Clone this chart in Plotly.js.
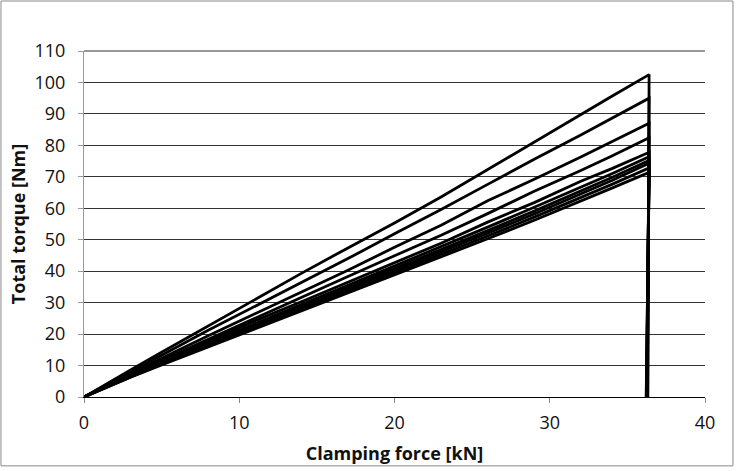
<!DOCTYPE html>
<html>
<head>
<meta charset="utf-8">
<script src="https://cdn.plot.ly/plotly-3.0.1.min.js"></script>
<style>
  html, body { margin: 0; padding: 0; background: #fff; }
  #chart { width: 736px; height: 471px; }
</style>
</head>
<body>
<div id="chart"></div>
<script>
// Clamping force sample points [kN] shared by every tightening run
const force = [0, 1, 3, 5, 8, 11, 14, 17, 20, 23, 26, 29, 32, 34, 36.4];

// Total torque [Nm] for each run, loading branch up to the peak
const run1  = [0, 2.9, 8.6, 14.2, 22.6, 30.9, 39.3, 47.4, 55.3, 63.6, 72.4, 81.0, 89.8, 95.6, 102.5];
const run2  = [0, 2.7, 8.1, 13.3, 21.2, 28.8, 36.4, 44.0, 51.9, 59.6, 67.6, 75.6, 83.3, 88.6, 95.0];
const run3  = [0, 2.5, 7.5, 12.3, 19.5, 26.5, 33.4, 40.3, 47.6, 54.6, 62.4, 69.2, 76.3, 81.2, 87.0];
const run4  = [0, 2.4, 7.2, 11.7, 18.4, 25.1, 31.7, 38.3, 44.9, 51.4, 58.3, 65.4, 72.0, 76.6, 82.4];
const run5  = [0, 2.4, 7.0, 11.4, 17.8, 24.2, 30.3, 36.5, 42.6, 48.9, 55.6, 61.8, 68.6, 72.6, 77.8];
const run6  = [0, 2.3, 6.8, 11.0, 17.2, 23.4, 29.4, 35.5, 41.6, 47.7, 54.0, 60.3, 66.7, 71.0, 76.4];
const run7  = [0, 2.3, 6.7, 10.8, 16.8, 22.8, 28.8, 34.7, 40.7, 46.8, 52.9, 59.1, 65.4, 69.8, 75.2];
const run8  = [0, 2.2, 6.5, 10.6, 16.5, 22.4, 28.3, 34.2, 40.1, 46.0, 52.1, 58.2, 64.5, 68.8, 74.3];
const run9  = [0, 2.2, 6.4, 10.4, 16.2, 22.0, 27.8, 33.6, 39.4, 45.2, 51.2, 57.2, 63.3, 67.6, 72.8];
const run10 = [0, 2.1, 6.3, 10.2, 15.9, 21.6, 27.3, 33.0, 38.7, 44.4, 50.3, 56.2, 62.2, 66.4, 71.4];

// Force at which each run's torque falls back to zero (release)
const releaseForce = [36.32, 36.28, 36.30, 36.26, 36.24, 36.27, 36.22, 36.25, 36.21, 36.23];

const runs = [run1, run2, run3, run4, run5, run6, run7, run8, run9, run10];

const xTicks = [0, 10, 20, 30, 40];
const yTicks = [0, 10, 20, 30, 40, 50, 60, 70, 80, 90, 100, 110];

const traces = runs.map((torque, i) => ({
  type: 'scatter',
  mode: 'lines',
  x: force.concat([releaseForce[i]]),
  y: torque.concat([0]),
  line: { color: '#000000', width: 2.8 },
  hoverinfo: 'skip',
  showlegend: false
}));

const fontFamily = '"Open Sans", Lato, "Liberation Sans", sans-serif';
const textColor = '#111111';

const layout = {
  width: 736,
  height: 471,
  margin: { l: 84, r: 31, t: 51, b: 74 },
  paper_bgcolor: '#ffffff',
  plot_bgcolor: '#ffffff',
  font: { family: fontFamily, color: textColor, size: 18 },
  showlegend: false,
  xaxis: {
    range: [0, 40],
    tickvals: xTicks,
    ticktext: xTicks.map(String),
    showgrid: false,
    zeroline: false,
    showline: true,
    linecolor: '#000000',
    linewidth: 1,
    ticks: 'outside',
    ticklen: 5,
    tickcolor: '#888888',
    ticklabelstandoff: 4,
    tickfont: { size: 18, family: fontFamily, color: textColor },
    title: { text: 'Clamping force [kN]', font: { size: 18, family: fontFamily, color: textColor, weight: 'bold' }, standoff: 14 }
  },
  yaxis: {
    range: [0, 110],
    tickvals: yTicks,
    ticktext: yTicks.map(String),
    showgrid: true,
    gridcolor: '#333333',
    gridwidth: 1,
    zeroline: false,
    showline: true,
    linecolor: '#999999',
    linewidth: 1,
    ticks: 'outside',
    ticklen: 5,
    tickcolor: '#999999',
    ticklabelstandoff: 9,
    tickfont: { size: 18, family: fontFamily, color: textColor },
    title: { text: 'Total torque [Nm]', font: { size: 18, family: fontFamily, color: textColor, weight: 'bold' }, standoff: 4 }
  },
  shapes: [{
    type: 'rect', xref: 'paper', yref: 'paper',
    x0: -0.1337, x1: 1.045, y0: -0.199, y1: 1.1445,
    line: { color: '#8a8a8a', width: 1 }, layer: 'below'
  }, {
    type: 'line', xref: 'paper', yref: 'paper',
    x0: 0, x1: 1, y0: 1, y1: 1,
    line: { color: '#333333', width: 1 }, layer: 'below'
  }]
};

Plotly.newPlot('chart', traces, layout, { staticPlot: true, displayModeBar: false });
</script>
</body>
</html>
